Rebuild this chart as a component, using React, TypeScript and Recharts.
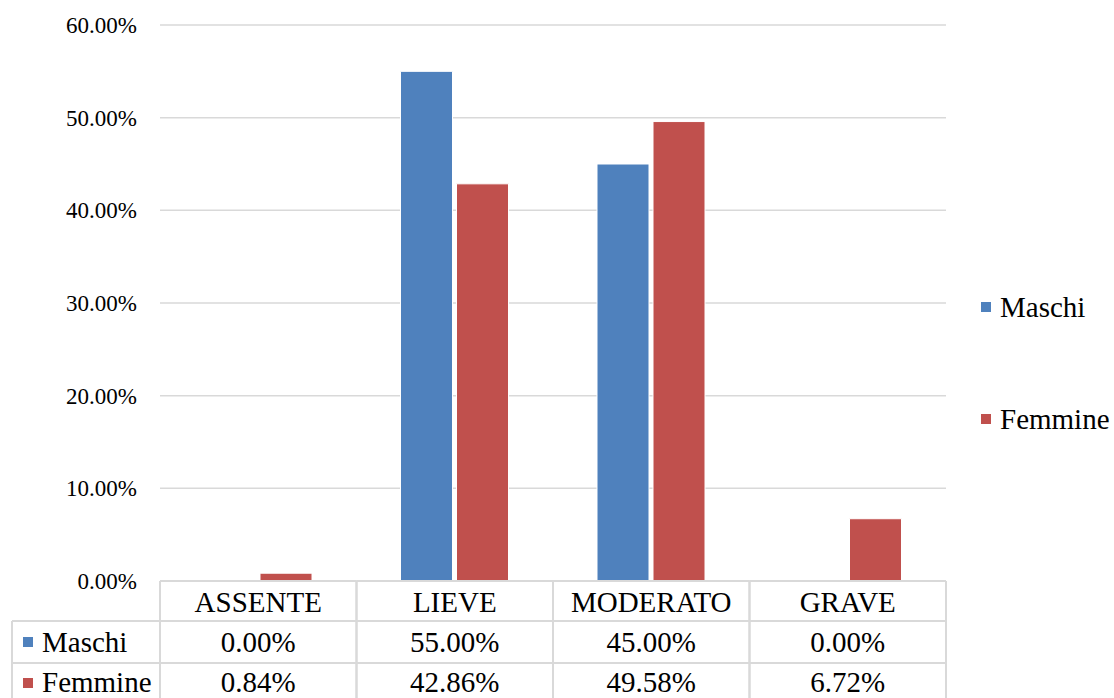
import React from "react";
import { BarChart, Bar, XAxis, YAxis, CartesianGrid, Legend } from "recharts";

const categories = ["ASSENTE", "LIEVE", "MODERATO", "GRAVE"];
const maschi = [0.0, 55.0, 45.0, 0.0];
const femmine = [0.84, 42.86, 49.58, 6.72];
const yTicks = [0, 10, 20, 30, 40, 50, 60];

const BLUE = "#4F81BD";
const RED = "#C0504D";
const GRID = "#D9D9D9";
const FONT = "'Liberation Serif', 'Times New Roman', serif";

const data = categories.map((c, i) => ({ name: c, Maschi: maschi[i], Femmine: femmine[i] }));

const fmt = (v: number) => `${v.toFixed(2)}%`;

const txtStyle = { fontFamily: FONT };

const TableTick = (props: any) => {
  const { x, y, payload, index, width } = props;
  const colW = width / categories.length;
  const left = x - colW / 2;
  const right = x + colW / 2;
  const r1 = y + 40;
  const r2 = y + 82;
  const bottom = y + 140;
  const i = index;
  const ts = 29;
  return (
    <g>
      <line x1={left} x2={left} y1={y} y2={bottom} stroke={GRID} strokeWidth={2} />
      <line x1={right} x2={right} y1={y} y2={bottom} stroke={GRID} strokeWidth={2} />
      <line x1={left} x2={right} y1={y} y2={y} stroke={GRID} strokeWidth={2} />
      <line x1={left} x2={right} y1={r1} y2={r1} stroke={GRID} strokeWidth={2} />
      <line x1={left} x2={right} y1={r2} y2={r2} stroke={GRID} strokeWidth={2} />
      <text x={x} y={y + 21} textAnchor="middle" dominantBaseline="central" fontSize={ts} style={txtStyle} fill="#000">
        {payload.value}
      </text>
      <text x={x} y={y + 61} textAnchor="middle" dominantBaseline="central" fontSize={ts} style={txtStyle} fill="#000">
        {fmt(maschi[i])}
      </text>
      <text x={x} y={y + 101} textAnchor="middle" dominantBaseline="central" fontSize={ts} style={txtStyle} fill="#000">
        {fmt(femmine[i])}
      </text>
      {i === 0 && (
        <g>
          <line x1={12} x2={left} y1={r1} y2={r1} stroke={GRID} strokeWidth={2} />
          <line x1={12} x2={left} y1={r2} y2={r2} stroke={GRID} strokeWidth={2} />
          <line x1={12} x2={12} y1={r1} y2={bottom} stroke={GRID} strokeWidth={2} />
          <rect x={23} y={y + 56} width={10} height={10} fill={BLUE} />
          <text x={42} y={y + 61} dominantBaseline="central" fontSize={ts} style={txtStyle} fill="#000">
            Maschi
          </text>
          <rect x={23} y={y + 97} width={10} height={10} fill={RED} />
          <text x={42} y={y + 101} dominantBaseline="central" fontSize={ts} style={txtStyle} fill="#000">
            Femmine
          </text>
        </g>
      )}
    </g>
  );
};

const LegendContent = () => (
  <div style={{ fontFamily: FONT, fontSize: 29, color: "#000", lineHeight: "30px", paddingLeft: 35 }}>
    {[
      { label: "Maschi", color: BLUE },
      { label: "Femmine", color: RED },
    ].map((it, k) => (
      <div key={it.label} style={{ display: "flex", alignItems: "center", marginTop: k === 0 ? 0 : 82, whiteSpace: "nowrap" }}>
        <span style={{ display: "inline-block", width: 10, height: 10, background: it.color, marginRight: 9 }} />
        <span>{it.label}</span>
      </div>
    ))}
  </div>
);

export default function App() {
  return (
    <div style={{ position: "absolute", left: 0, top: 0, width: 1114, height: 698, background: "#fff" }}>
      <BarChart
        width={1114}
        height={698}
        data={data}
        margin={{ top: 25, right: 0, bottom: 0, left: 0 }}
        barSize={52}
        barGap={4}
      >
        <CartesianGrid vertical={false} stroke={GRID} strokeWidth={1.5} />
        <XAxis
          dataKey="name"
          height={117}
          axisLine={false}
          tickLine={false}
          tickSize={0}
          tickMargin={0}
          interval={0}
          tick={<TableTick />}
        />
        <YAxis
          width={160}
          domain={[0, 60]}
          ticks={yTicks}
          axisLine={false}
          tickLine={false}
          tickMargin={17}
          tickFormatter={fmt}
          tick={{ fontSize: 23, fill: "#000", style: { fontFamily: FONT } }}
        />
        <Legend
          layout="vertical"
          align="right"
          verticalAlign="middle"
          content={<LegendContent />}
          wrapperStyle={{ width: 168, top: 292 }}
        />
        <Bar dataKey="Maschi" fill={BLUE} stroke="#fff" strokeWidth={1} isAnimationActive={false} />
        <Bar dataKey="Femmine" fill={RED} stroke="#fff" strokeWidth={1} isAnimationActive={false} />
      </BarChart>
    </div>
  );
}
